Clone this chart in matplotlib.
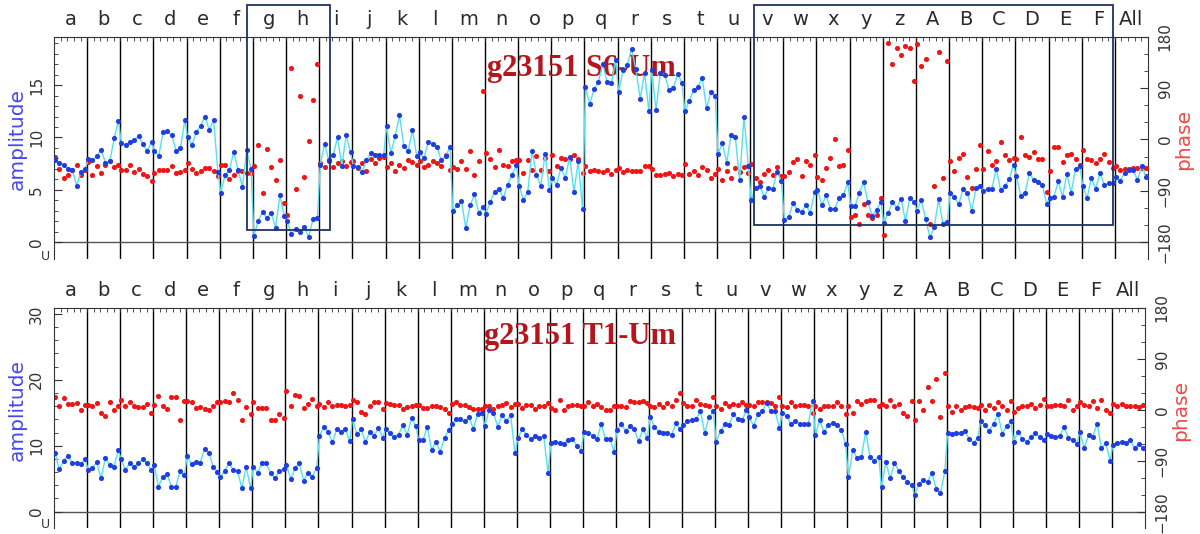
import numpy as np
import matplotlib.pyplot as plt
from matplotlib.patches import Rectangle

columns = list("abcdefghijklmnopqrstuvwxyz") + list("ABCDEF") + ["All"]

# g23151 S6-Um, 8 points per column
s6_amp = [
    [7.8, 7.6, 7.4, 7.0, 6.9, 5.4, 6.7, 7.0],
    [7.9, 7.8, 8.2, 8.8, 7.6, 7.7, 9.9, 11.6],
    [9.5, 9.3, 9.6, 9.75, 10.1, 9.4, 8.7, 9.6],
    [8.7, 8.25, 10.5, 10.6, 10.2, 8.7, 8.95, 11.65],
    [10.0, 9.3, 10.5, 11.1, 12.0, 10.7, 11.7, 6.7],
    [4.7, 6.4, 6.9, 8.6, 6.9, 5.3, 8.8, 7.0],
    [0.6, 2.0, 2.9, 2.3, 2.8, 1.35, 4.45, 2.5],
    [2.0, 0.8, 1.2, 0.96, 1.4, 0.5, 2.2, 2.3],
    [7.35, 9.4, 7.8, 8.3, 10.0, 7.3, 10.2, 8.6],
    [7.3, 7.2, 6.7, 7.8, 8.5, 8.3, 8.3, 8.3],
    [11.1, 8.5, 10.1, 12.1, 9.2, 8.7, 10.7, 8.2],
    [8.6, 8.0, 9.6, 9.4, 9.1, 7.8, 8.2, 9.1],
    [3.0, 3.5, 3.9, 1.35, 3.5, 4.55, 2.75, 3.35],
    [2.7, 3.85, 4.8, 5.1, 4.2, 5.5, 6.4, 7.35],
    [5.4, 4.0, 4.8, 8.7, 6.4, 5.4, 8.4, 5.0],
    [6.1, 5.5, 7.1, 6.1, 8.15, 4.8, 7.7, 3.2],
    [14.8, 13.2, 14.6, 15.3, 17.0, 15.3, 15.2, 17.4],
    [14.3, 16.4, 16.9, 18.5, 16.5, 13.7, 16.2, 12.5],
    [16.4, 12.6, 16.2, 16.0, 14.5, 14.7, 16.1, 15.2],
    [12.5, 13.5, 14.5, 14.8, 15.7, 12.8, 14.3, 14.0],
    [8.4, 9.5, 7.6, 10.2, 10.0, 5.9, 12.0, 7.3],
    [4.0, 5.2, 5.4, 4.3, 5.2, 5.1, 6.7, 5.8],
    [2.1, 2.4, 3.7, 3.1, 2.9, 3.5, 2.8, 4.8],
    [5.0, 3.5, 4.5, 3.2, 3.2, 4.2, 4.5, 5.7],
    [3.4, 3.4, 4.7, 5.7, 3.8, 2.5, 3.1, 3.8],
    [1.8, 2.8, 3.8, 3.3, 4.15, 2.0, 4.25, 3.85],
    [3.0, 4.0, 2.2, 0.45, 1.45, 4.1, 1.7, 1.9],
    [4.7, 4.3, 3.6, 5.1, 4.7, 3.0, 5.2, 5.4],
    [4.9, 5.1, 5.1, 7.0, 5.0, 5.35, 6.0, 7.4],
    [6.3, 4.4, 4.7, 6.6, 5.9, 5.7, 5.5, 3.6],
    [4.2, 4.3, 5.8, 4.3, 6.5, 4.7, 7.0, 7.3],
    [5.4, 4.2, 6.1, 5.1, 6.6, 5.45, 5.6, 5.6],
    [6.2, 5.8, 6.6, 6.9, 6.9, 5.9, 7.3, 6.2],
]
s6_phase = [
    [-30, -52, -67, -62, -53, -44, -62, -53],
    [-40, -62, -47, -59, -44, -38, -48, -44],
    [-53, -54, -45, -57, -52, -60, -64, -73],
    [-59, -54, -53, -53, -46, -59, -57, -53],
    [-41, -52, -59, -56, -50, -50, -56, -64],
    [-44, -45, -70, -62, -56, -55, -59, -59],
    [-46, -9, -94, -16, -48, -72, -36, -111],
    [-133, 125, -87, 76, -66, -2, 70, 132],
    [-42, -49, -38, -49, -42, -37, -47, -40],
    [-38, -50, -42, -55, -35, -41, -32, -30],
    [-48, -42, -55, -44, -50, -36, -40, -45],
    [-38, -48, -44, -38, -42, -46, -28, -54],
    [-48, -51, -37, -52, -21, -63, -37, 86],
    [-23, -35, -49, -18, -44, -46, -38, -36],
    [-36, -59, -36, -53, -29, -53, -32, -55],
    [-28, -46, -33, -35, -34, -28, -35, -59],
    [-47, -56, -54, -55, -57, -54, -61, -53],
    [-50, -57, -54, -56, -56, -56, -46, -46],
    [-52, -62, -62, -61, -59, -65, -60, -63],
    [-43, -60, -56, -62, -49, -53, -67, -60],
    [-52, -72, -56, -67, -50, -57, -49, -59],
    [-43, -67, -75, -60, -54, -63, -48, -65],
    [-64, -57, -40, -34, -64, -38, -44, -28],
    [-66, -72, -50, -32, 0, -47, -44, -18],
    [-136, -132, -148, -113, -132, -138, -132, -103],
    [-167, 169, 132, 161, 148, 164, 160, 103],
    [168, 129, 142, -149, -81, 154, -67, 138],
    [-38, -55, -32, -25, -66, -86, -52, -10],
    [-52, -21, -45, -38, -4, -28, -36, -32],
    [-35, 5, -28, -31, -22, -35, -35, -92],
    [-56, -14, -14, -40, -28, -25, -34, -44],
    [-19, -35, -36, -42, -35, -25, -40, -50],
    [-46, -53, -51, -51, -50, -50, -50, -50],
]

# g23151 T1-Um
t1_amp = [
    [8.9, 6.4, 7.75, 8.5, 7.35, 7.35, 7.25, 7.95],
    [6.35, 6.6, 7.5, 5.05, 8.1, 7.1, 6.85, 9.35],
    [7.95, 6.35, 7.35, 6.85, 7.35, 7.95, 7.35, 6.25],
    [7.1, 3.8, 5.3, 5.7, 3.7, 3.8, 6.1, 5.6],
    [8.45, 7.2, 7.6, 7.45, 9.5, 8.95, 6.85, 6.0],
    [5.2, 6.2, 7.35, 6.35, 6.1, 3.55, 6.85, 3.55],
    [6.75, 5.9, 7.45, 7.35, 5.8, 5.05, 6.1, 6.45],
    [7.1, 4.95, 6.6, 7.35, 4.7, 5.9, 5.3, 6.6],
    [11.5, 12.9, 12.15, 10.5, 12.5, 12.15, 12.5, 10.7],
    [14.1, 11.75, 12.5, 10.5, 12.15, 11.55, 12.65, 11.25],
    [12.5, 11.9, 11.3, 11.7, 13.1, 11.65, 14.2, 13.0],
    [10.8, 10.8, 12.9, 9.35, 10.6, 9.1, 11.25, 12.4],
    [13.3, 14.0, 14.0, 13.7, 14.3, 12.55, 14.8, 15.0],
    [13.0, 15.4, 15.0, 12.9, 14.6, 13.8, 14.6, 8.85],
    [11.1, 12.55, 11.65, 11.0, 11.55, 11.1, 11.5, 5.8],
    [10.4, 10.5, 10.4, 10.3, 10.9, 11.0, 10.0, 9.25],
    [12.05, 11.9, 11.5, 11.0, 13.3, 11.0, 11.0, 9.1],
    [12.4, 13.3, 12.25, 13.0, 12.5, 10.7, 12.5, 11.1],
    [14.4, 12.9, 12.15, 12.0, 12.0, 11.65, 13.4, 12.5],
    [13.2, 13.7, 13.9, 14.0, 15.3, 11.9, 14.4, 15.2],
    [10.6, 12.25, 13.3, 13.2, 14.8, 14.0, 13.9, 15.4],
    [14.4, 13.0, 14.8, 15.2, 16.5, 15.2, 15.2, 12.65],
    [15.0, 14.5, 13.3, 13.8, 13.35, 13.25, 13.25, 16.85],
    [11.65, 13.9, 12.05, 13.2, 13.45, 13.1, 12.4, 10.25],
    [5.2, 9.35, 8.1, 8.25, 12.15, 8.25, 7.7, 8.35],
    [3.7, 7.5, 5.05, 7.35, 6.2, 5.2, 4.55, 4.05],
    [2.5, 4.2, 4.8, 4.55, 5.9, 3.5, 2.8, 6.1],
    [11.9, 11.8, 11.9, 11.9, 12.25, 11.0, 10.4, 11.25],
    [13.8, 13.1, 12.25, 13.35, 14.8, 11.8, 13.0, 13.7],
    [10.6, 12.15, 11.0, 10.6, 11.4, 11.9, 11.3, 10.8],
    [11.8, 11.55, 11.3, 11.55, 12.8, 11.25, 10.9, 10.3],
    [12.15, 9.6, 11.65, 11.4, 13.35, 9.6, 10.4, 7.75],
    [10.15, 10.4, 10.5, 10.4, 10.9, 9.6, 10.3, 9.6],
]
t1_phase = [
    [22, 7, 21, 11, 11, 12, -1, 9],
    [9, 6, 12, -5, -10, 14, 0, 7],
    [18, 7, 14, 7, 5, 5, 11, -6],
    [9, 25, 7, 1, 22, 22, -18, 15],
    [15, 14, 3, 5, 1, 0, 6, 13],
    [14, 16, 13, 30, 17, -18, 5, -7],
    [14, 3, 3, 3, -18, -18, -7, -15],
    [33, 6, 27, 24, 4, 11, 19, 7],
    [10, 5, 13, 6, 9, 9, 6, 9],
    [18, 13, -3, -7, 6, 13, 14, 1],
    [12, 11, 9, 9, 1, 5, 6, 9],
    [9, 3, 3, 7, 6, 5, 1, -5],
    [11, 14, 9, 9, 5, 1, 1, 1],
    [7, 7, 1, 6, 9, 12, 5, 11],
    [11, 3, 9, 9, 1, 7, 7, 12],
    [3, 0, 18, 0, 7, 9, 9, 7],
    [6, 13, 7, 10, 5, 0, 0, 6],
    [7, 7, 5, 16, 13, 14, 16, 12],
    [6, 5, 10, 5, 12, 6, 18, 30],
    [12, 7, 6, 18, 10, 9, 7, 22],
    [7, 1, 12, 6, 11, 9, 13, 9],
    [9, 6, 13, 13, 13, 12, 7, 22],
    [7, 5, 13, 6, 9, 8, 7, -6],
    [7, 1, 7, 7, 7, 14, 7, -7],
    [7, -6, 15, 10, 15, 17, 18, 7],
    [11, 6, 18, 6, 10, -6, -11, 15],
    [-18, 16, -1, 41, 16, 54, -12, 65],
    [7, -3, 6, -1, 5, 7, 5, 4],
    [9, 0, 9, 3, 14, 6, 0, 15],
    [-3, 3, 6, 7, 10, 4, 9, 20],
    [7, 7, 8, 9, 7, 17, 0, 7],
    [14, 8, 6, 15, 3, 17, 0, -5],
    [10, 7, 10, 7, 7, 7, 5, 9],
]

W, H = 1200, 534
fig = plt.figure(figsize=(W / 100, H / 100), dpi=100)


def fx(px):
    return px / W


def fy(py):
    return 1 - py / H


def panel(left, right, top, bottom, amp, phase, amp_lim, amp_major, amp_minor, ph_lim,
          title, title_y):
    ax = fig.add_axes([fx(left), fy(bottom), (right - left) / W, (bottom - top) / H])
    ax2 = ax.twinx()
    ax.set_zorder(ax2.get_zorder() + 1)
    ax.patch.set_visible(False)

    n = len(columns)
    xs = np.array([c + 0.03 + k * 0.1306 for c in range(n) for k in range(8)])
    a = np.concatenate(amp)
    p = np.concatenate(phase)

    ax.set_xlim(0, n)
    ax.set_ylim(*amp_lim)
    ax2.set_ylim(*ph_lim)

    for c in range(1, n):
        ax2.axvline(c, color="black", lw=1, zorder=1)
    ax2.axhline(-180, color="#555555", lw=1, zorder=1)
    ax2.plot(xs, p, "o", ms=3.7, color="#f01515", mec="none", zorder=3)
    ax.text(0.482, title_y, title, transform=ax.transAxes, ha="center", va="center",
            fontsize=22, fontweight="bold", family="Liberation Serif",
            color="#b5161c", zorder=2)
    ax.plot(xs, a, "-", lw=1, color="#55e0f0", zorder=3)
    ax.plot(xs, a, "o", ms=3.7, color="#1e3ee0", mec="none", zorder=4)

    for s in ("bottom", "right"):
        ax.spines[s].set_visible(False)
    for s in ("bottom", "left", "top"):
        ax2.spines[s].set_visible(False)
    for s in ax.spines.values():
        s.set_color("#333333")
    for s in ax2.spines.values():
        s.set_color("#333333")

    # column labels on top
    ax.set_xticks(np.arange(n) + 0.5)
    ax.set_xticklabels(columns)
    ax.set_xticks(np.arange(0, n + 0.01, 0.2), minor=True)
    ax.tick_params(axis="x", which="major", top=True, bottom=False, labeltop=True,
                   labelbottom=False, length=0, pad=6, labelsize=14, labelcolor="#2a2a2a")
    ax.tick_params(axis="x", which="minor", top=True, bottom=False, direction="in",
                   length=3, color="#333333")

    ax.set_yticks(amp_major)
    ax.set_yticks(amp_minor, minor=True)
    ax.tick_params(axis="y", which="major", direction="in", length=6, labelsize=11,
                   labelcolor="#333333", pad=7, color="#333333")
    ax.tick_params(axis="y", which="minor", direction="in", length=3, color="#333333")
    for lab in ax.get_yticklabels():
        lab.set_rotation(90)
        lab.set_va("center")

    ax2.set_yticks([-180, -90, 0, 90, 180])
    ax2.set_yticks(np.arange(-180, 181, 30), minor=True)
    ax2.tick_params(axis="y", which="major", direction="in", length=6, labelsize=11,
                    labelcolor="#333333", pad=7, color="#333333")
    ax2.tick_params(axis="y", which="minor", direction="in", length=3, color="#333333")
    for lab in ax2.get_yticklabels():
        lab.set_rotation(90)
        lab.set_va("center")
    return ax


ax_top = panel(54, 1148, 37, 259, s6_amp, s6_phase, (-1.62, 19.6),
               [0, 5, 10, 15], np.arange(0, 20, 1), (-209.9, 180),
               "g23151 S6-Um", 0.86)
ax_bot = panel(54, 1145, 308, 528, t1_amp, t1_phase, (-2.48, 30.9),
               [0, 10, 20, 30], np.arange(0, 31, 2), (-208.8, 180),
               "g23151 T1-Um", 0.87)

# highlight boxes on the upper panel
for x0, x1, y0 in [(5.82, 8.32, 1.15), (21.11, 31.94, 1.62)]:
    ax_top.add_patch(Rectangle((x0, y0), x1 - x0, 22.7 - y0, fill=False,
                               ec="#1f3560", lw=1.3, clip_on=False, zorder=6))

for yc in (139, 410):
    fig.text(fx(17), fy(yc), "amplitude", rotation=90, ha="center", va="center",
             fontsize=14.5, color="#4646f0")
fig.text(fx(1184), fy(139), "phase", rotation=90, ha="center", va="center",
         fontsize=14.5, color="#f04848")
fig.text(fx(1181), fy(410), "phase", rotation=90, ha="center", va="center",
         fontsize=14.5, color="#f04848")

for yc in (257, 524):
    fig.text(fx(45.5), fy(yc), "U", ha="center", va="center", fontsize=9, color="#333333")

fig.savefig("out.png", dpi=100)
